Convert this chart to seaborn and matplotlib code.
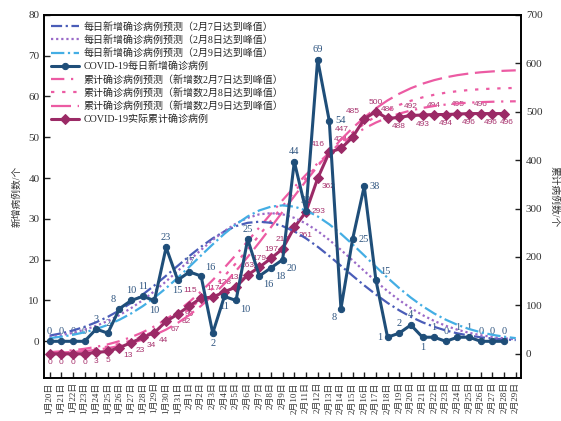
import matplotlib
matplotlib.use("Agg")
import matplotlib.pyplot as plt
import seaborn as sns

# ---- data -------------------------------------------------------------
dates = [f"1月{d}日" for d in range(20, 32)] + [f"2月{d}日" for d in range(1, 30)]

daily_actual = [0, 0, 0, 0, 3, 2, 8, 10, 11, 10, 23, 15, 17, 16, 2, 11, 10, 25,
                16, 18, 20, 44, 32, 69, 54, 8, 25, 38, 15, 1, 2, 4, 1, 1, 0, 1,
                1, 0, 0, 0]
cum_actual = [0, 0, 0, 0, 3, 5, 13, 23, 34, 44, 67, 82, 99, 115, 117, 128, 138,
              163, 179, 197, 217, 261, 293, 362, 416, 424, 447, 485, 500, 486,
              488, 492, 493, 494, 494, 495, 496, 496, 496, 496]

pred_daily_0207 = [1.4, 1.95, 2.65, 3.55, 4.66, 6.0, 7.59, 9.41, 11.47, 13.7,
                   16.07, 18.5, 20.9, 23.17, 25.22, 26.93, 28.22, 29.03, 29.3,
                   29.03, 28.22, 26.93, 25.22, 23.17, 20.9, 18.5, 16.07, 13.7,
                   11.47, 9.41, 7.59, 6.0, 4.66, 3.55, 2.65, 1.95, 1.4, 0.99,
                   0.69, 0.47, 0.31]
pred_daily_0208 = [1.06, 1.5, 2.08, 2.84, 3.8, 4.99, 6.43, 8.13, 10.09, 12.29,
                   14.69, 17.23, 19.83, 22.4, 24.83, 27.02, 28.86, 30.24, 31.11,
                   31.4, 31.11, 30.24, 28.86, 27.02, 24.83, 22.4, 19.83, 17.23,
                   14.69, 12.29, 10.09, 8.13, 6.43, 4.99, 3.8, 2.84, 2.08, 1.5,
                   1.06, 0.73, 0.5]
pred_daily_0209 = [0.78, 1.13, 1.59, 2.21, 3.01, 4.03, 5.29, 6.82, 8.62, 10.7,
                   13.03, 15.57, 18.27, 21.03, 23.75, 26.34, 28.66, 30.6, 32.07,
                   32.99, 33.3, 32.99, 32.07, 30.6, 28.66, 26.34, 23.75, 21.03,
                   18.27, 15.57, 13.03, 10.7, 8.62, 6.82, 5.29, 4.03, 3.01, 2.21,
                   1.59, 1.13, 0.78]

pred_cum_0207 = [3.5, 5.2, 7.4, 10.4, 14.4, 19.6, 26.2, 34.4, 44.6, 56.8, 71.3,
                 88.1, 107.3, 128.8, 152.3, 177.7, 204.6, 232.6, 261.0, 289.4,
                 317.4, 344.3, 369.7, 393.2, 414.7, 433.9, 450.7, 465.2, 477.4,
                 487.6, 495.8, 502.4, 507.6, 511.6, 514.6, 516.8, 518.5, 519.6,
                 520.4, 521.0, 521.3]
pred_cum_0208 = [2.5, 3.7, 5.4, 7.8, 10.9, 15.2, 20.6, 27.6, 36.2, 47.0, 59.8,
                 75.1, 92.8, 113.1, 135.7, 160.5, 187.3, 215.6, 245.0, 275.0,
                 305.0, 334.4, 362.7, 389.5, 414.3, 436.9, 457.2, 474.9, 490.2,
                 503.0, 513.8, 522.4, 529.4, 534.8, 539.1, 542.2, 544.6, 546.3,
                 547.5, 548.3, 548.9]
pred_cum_0209 = [1.8, 2.7, 4.0, 5.8, 8.3, 11.7, 16.2, 22.0, 29.4, 38.7, 50.1,
                 63.9, 80.2, 99.1, 120.7, 144.8, 171.3, 199.9, 230.1, 261.5,
                 293.5, 325.5, 356.9, 387.1, 415.7, 442.2, 466.3, 487.9, 506.8,
                 523.1, 536.9, 548.3, 557.6, 565.0, 570.8, 575.3, 578.7, 581.2,
                 583.0, 584.3, 585.2]

# where each value label sits relative to its point
daily_label_pos = ["a", "a", "a", "a", "a", "a", "al", "a", "a", "b", "a", "b",
                   "a", "ar", "b", "b", "br", "a", "br", "br", "br", "a", "a",
                   "a", "r", "bl", "r", "r", "ar", "l", "a", "a", "b", "a", "a",
                   "a", "a", "a", "a", "a"]
cum_label_pos = ["b", "b", "b", "b", "b", "b", "br", "br", "br", "br", "br",
                 "br", "b", "al", "a", "a", "a", "a", "a", "a", "a", "br", "r",
                 "br", "al", "a", "al", "al", "a", "a", "b", "a", "b", "a", "b",
                 "a", "b", "a", "bL", "bR"]

# ---- styling ----------------------------------------------------------
sns.set_style("ticks")
plt.rcParams["font.family"] = ["Liberation Serif", "Noto Sans CJK SC"]
plt.rcParams["axes.unicode_minus"] = False

NAVY = "#1F4E79"
MAROON = "#9B2A66"
INDIGO = "#4A5DB8"
PURPLE = "#9A6AC8"
SKY = "#44AEE4"
PINK = "#EC5BA3"
LBL_NAVY = "#2F5580"
LBL_PINK = "#A8346F"

fig = plt.figure(figsize=(5.61, 4.21), dpi=100)
ax = fig.add_axes([0.079, 0.102, 0.8497, 0.863])
ax2 = ax.twinx()
ax.set_zorder(2)
ax2.set_zorder(1)
ax.patch.set_visible(False)

x_pred = list(range(len(dates)))
x_act = list(range(len(daily_actual)))

handles = []


def draw(axis, x, y, label, **kw):
    sns.lineplot(x=x, y=y, ax=axis, errorbar=None, legend=False, **kw)
    line = axis.lines[-1]
    line.set_label(label)
    handles.append(line)
    return line


# daily forecast curves (left axis)
draw(ax, x_pred, pred_daily_0207, "每日新增确诊病例预测（2月7日达到峰值）",
     color=INDIGO, linewidth=1.6, linestyle=(0, (5, 1.6, 1, 1.6)))
draw(ax, x_pred, pred_daily_0208, "每日新增确诊病例预测（2月8日达到峰值）",
     color=PURPLE, linewidth=1.6, linestyle=(0, (1, 1.3)))
draw(ax, x_pred, pred_daily_0209, "每日新增确诊病例预测（2月9日达到峰值）",
     color=SKY, linewidth=1.6, linestyle=(0, (6, 1.6, 1, 1.6)))

# actual daily cases (left axis)
draw(ax, x_act, daily_actual, "COVID-19每日新增确诊病例",
     color=NAVY, linewidth=2.2, marker="o", markersize=4.5,
     markeredgecolor=NAVY)

# cumulative forecast curves (right axis)
draw(ax2, x_pred, pred_cum_0207, "累计确诊病例预测（新增数2月7日达到峰值）",
     color=PINK, linewidth=1.6, linestyle=(0, (6, 3, 1, 3)))
draw(ax2, x_pred, pred_cum_0208, "累计确诊病例预测（新增数2月8日达到峰值）",
     color=PINK, linewidth=1.6, linestyle=(0, (1.5, 3.5)))
draw(ax2, x_pred, pred_cum_0209, "累计确诊病例预测（新增数2月9日达到峰值）",
     color=PINK, linewidth=1.6, linestyle=(0, (9, 3)))

# actual cumulative cases (right axis)
draw(ax2, x_act, cum_actual, "COVID-19实际累计确诊病例",
     color=MAROON, linewidth=2.2, marker="D", markersize=5,
     markeredgecolor=MAROON)

OFF = {
    "a": ((0, 4), "center", "bottom"),
    "b": ((0, -4), "center", "top"),
    "bL": ((-1.5, -4), "center", "top"),
    "bR": ((2, -4), "center", "top"),
    "l": ((-4, 0), "right", "center"),
    "r": ((4, 0), "left", "center"),
    "al": ((-3, 3), "right", "bottom"),
    "ar": ((3, 3), "left", "bottom"),
    "bl": ((-3, -3), "right", "top"),
    "br": ((3, -3), "left", "top"),
}

for xi, (val, pos) in enumerate(zip(daily_actual, daily_label_pos)):
    off, ha, va = OFF[pos]
    ax.annotate(str(val), (xi, val), xytext=off, textcoords="offset points",
                ha=ha, va=va, fontsize=7.5, color=LBL_NAVY,
                family="Liberation Serif", zorder=1)

for xi, (val, pos) in enumerate(zip(cum_actual, cum_label_pos)):
    off, ha, va = OFF[pos]
    ax2.annotate(str(val), (xi, val), xytext=off, textcoords="offset points",
                 ha=ha, va=va, fontsize=6, color=LBL_PINK,
                 family="Liberation Sans", zorder=1)

# ---- axes ---------------------------------------------------------------
ax.set_xlim(-0.45, 40.45)
ax.set_ylim(-9, 80)
ax2.set_ylim(-50, 700)
ax.set_yticks(range(0, 81, 10))
ax2.set_yticks(range(0, 701, 100))
ax.set_xticks(x_pred)
ax.set_xticklabels(dates, rotation=90, fontsize=6.5)

for a in (ax, ax2):
    a.tick_params(direction="in", length=4, width=1, colors="#222222",
                  labelcolor="#333333", labelsize=8)
    for s in a.spines.values():
        s.set_linewidth(1.2)
        s.set_color("black")
ax.tick_params(axis="x", labelsize=6.5, pad=3)

ax.set_xlabel("")
ax.set_ylabel("新增病例数/个", fontsize=7, color="#333333", labelpad=5)
ax2.set_ylabel("累计病例数/个", fontsize=7, color="#333333", rotation=270,
               labelpad=12)

ax.legend(handles=handles, loc="upper left", frameon=False,
          numpoints=1, handlelength=2.8, handletextpad=0.4,
          labelspacing=0.33, borderaxespad=0.3,
          prop={"family": ["Liberation Serif", "Noto Sans CJK SC"],
                "size": 7.2})

fig.savefig("out.png", dpi=100)
